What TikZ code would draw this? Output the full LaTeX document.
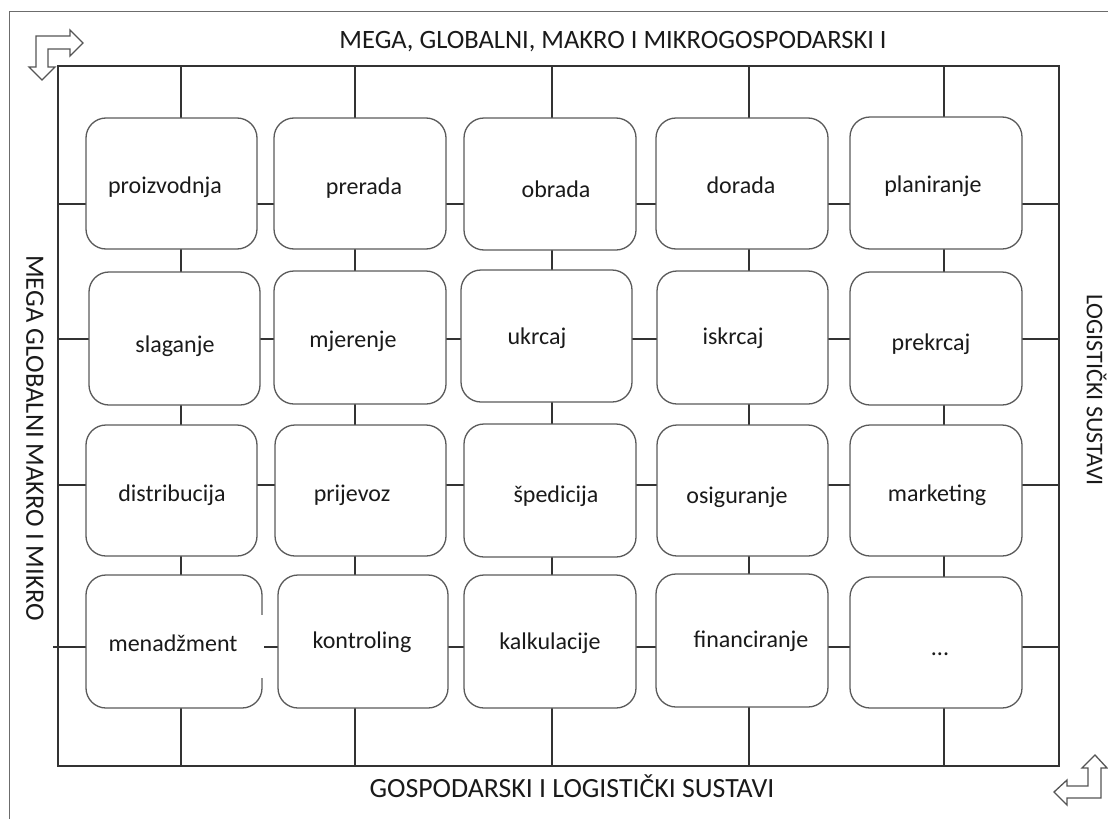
\documentclass[tikz,border=0pt]{standalone}
\usepackage{fontspec}
\setmainfont{Carlito}
\usetikzlibrary{fit}
\definecolor{boxgray}{HTML}{5A5A5A}
\definecolor{linegray}{HTML}{333333}
\definecolor{txt}{HTML}{1A1A1A}
\definecolor{arrgray}{HTML}{555555}
\begin{document}
\begin{tikzpicture}[x=1pt,y=-1pt,
  gridline/.style={draw=linegray, line width=1.3pt},
  frameline/.style={draw=linegray, line width=1.3pt},
  outerline/.style={draw=gray!85!black, line width=1pt},
  box/.style={draw=boxgray, line width=1.3pt, rounded corners=20pt, fill=white, inner sep=0pt},
  lbl/.style={anchor=base, text=txt, font=\fontsize{24}{28}\selectfont, inner sep=0pt},
  title/.style={text=txt, font=\fontsize{26.5}{30}\selectfont, inner sep=0pt},
  arrowshape/.style={draw=arrgray, line width=1.3pt, line join=miter, fill=white}]
\useasboundingbox (0,0) rectangle (1108,819);

% outer frame (partly visible)
\coordinate (oTL) at (9,11);
\coordinate (oBL) at (9,819);
\coordinate (oTR) at (1108,11);
\draw[outerline] (oBL) -- (oTL) -- (oTR);

% inner frame
\node[frameline, inner sep=0pt, fit={(58,66) (1059,766)}] (frame) {};

% grid lines
\foreach \x [count=\i] in {181,355,552,749,944}{
  \coordinate (vt\i) at (\x,66);
  \coordinate (vb\i) at (\x,766);
  \draw[gridline] (vt\i) -- (vb\i);
}
\foreach \y [count=\i] in {204,339,485} {
  \coordinate (hl\i) at (58,\y);
  \coordinate (hr\i) at (1059,\y);
  \draw[gridline] (hl\i) -- (hr\i);
}
\coordinate (hl4) at (53,647);
\coordinate (hr4) at (1059,647);
\draw[gridline] (hl4) -- (hr4);

% boxes row 1
\node[box, fit={(86,118) (257,249)}] (b11) {};
\node[box, fit={(274,118) (446,249)}] (b12) {};
\node[box, fit={(464,118) (636,250)}] (b13) {};
\node[box, fit={(656,118) (828,249)}] (b14) {};
\node[box, fit={(850,117) (1022,249)}] (b15) {};
% row 2
\node[box, fit={(89,272) (260,405)}] (b21) {};
\node[box, fit={(274,271) (446,404)}] (b22) {};
\node[box, fit={(461,270) (632,402)}] (b23) {};
\node[box, fit={(657,271) (828,404)}] (b24) {};
\node[box, fit={(850,272) (1022,405)}] (b25) {};
% row 3
\node[box, fit={(86,425) (257,556)}] (b31) {};
\node[box, fit={(275,425) (446,556)}] (b32) {};
\node[box, fit={(464,424) (636,557)}] (b33) {};
\node[box, fit={(657,425) (828,556)}] (b34) {};
\node[box, fit={(850,425) (1022,556)}] (b35) {};
% row 4
\node[box, fit={(86,575) (262,708)}] (b41) {};
\node[box, fit={(278,575) (448,708)}] (b42) {};
\node[box, fit={(464,575) (636,708)}] (b43) {};
\node[box, fit={(656,574) (828,707)}] (b44) {};
\node[box, fit={(850,577) (1022,708)}] (b45) {};

% small gap in the menadzment box border
\draw[white, line width=2.5pt] (b41.east |- 0,615) -- (b41.east |- 0,678);

% labels
\node[lbl] (t11) at (165,193) {proizvodnja};
\node[lbl] (t12) at (364,194) {prerada};
\node[lbl] (t13) at (556,197) {obrada};
\node[lbl] (t14) at (741,193) {dorada};
\node[lbl] (t15) at (933,192) {planiranje};
\node[lbl] (t21) at (175,352) {slaganje};
\node[lbl] (t22) at (353,347) {mjerenje};
\node[lbl] (t23) at (537,344) {ukrcaj};
\node[lbl] (t24) at (733,344) {iskrcaj};
\node[lbl] (t25) at (931,350) {prekrcaj};
\node[lbl] (t31) at (172,501) {distribucija};
\node[lbl] (t32) at (352,501) {prijevoz};
\node[lbl] (t33) at (556,502) {špedicija};
\node[lbl] (t34) at (737,503) {osiguranje};
\node[lbl] (t35) at (937,501) {marketing};
\node[lbl] (t41) at (173,651) {menadžment};
\node[lbl] (t42) at (362,648) {kontroling};
\node[lbl] (t43) at (550,649) {kalkulacije};
\node[lbl] (t44) at (751,647) {financiranje};
\node[lbl] (t45) at (940,655) {...};

% titles
\node[title, anchor=base] (top) at (613,48) {MEGA, GLOBALNI, MAKRO I MIKROGOSPODARSKI I};
\node[title, anchor=base, font=\fontsize{27.8}{32}\selectfont] (bottom) at (572,797) {GOSPODARSKI I LOGISTIČKI SUSTAVI};
\node[title, rotate=-90] (left) at (35,438) {MEGA GLOBALNI MAKRO I MIKRO};
\node[title, rotate=-90, font=\fontsize{24}{28}\selectfont] (right) at (1096.5,390) {LOGISTIČKI SUSTAVI};

% corner arrows
\draw[arrowshape] (36,36) -- (70,36) -- (70,30) -- (83,43) -- (70,56) -- (70,49)
  -- (48,49) -- (48,67) -- (55,67) -- (42,80) -- (29,67) -- (36,67) -- cycle;
\draw[arrowshape] (1095,755) -- (1107,768) -- (1101,768) -- (1101,798) -- (1067,798)
  -- (1067,805) -- (1054,792) -- (1067,780) -- (1067,786) -- (1088,786) -- (1088,768)
  -- (1082,768) -- cycle;
\end{tikzpicture}
\end{document}
